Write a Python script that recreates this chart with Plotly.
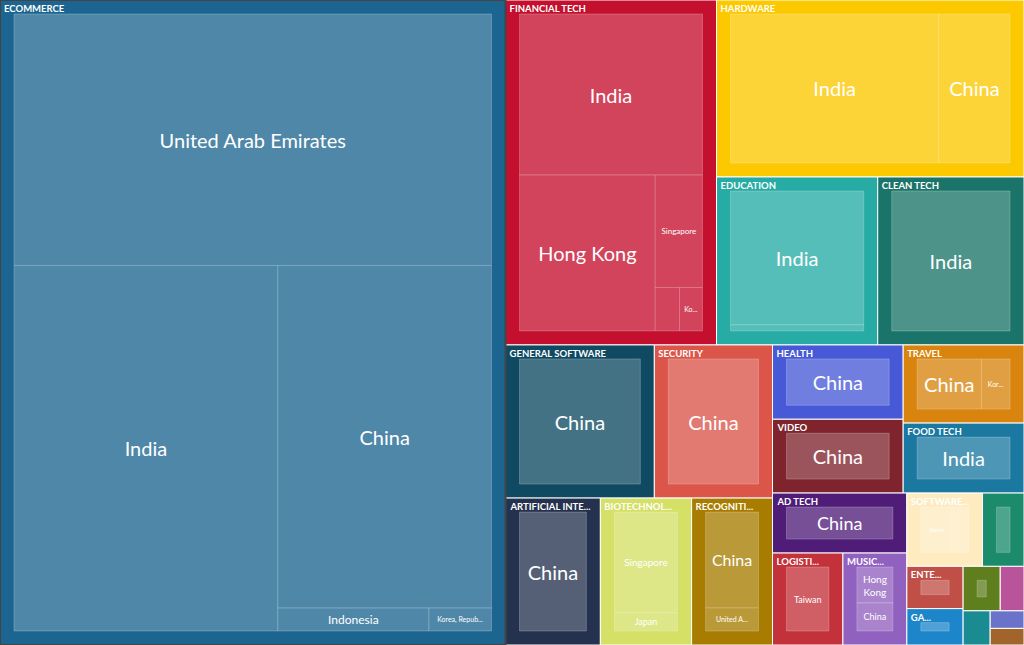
import plotly.graph_objects as go

# sectors (outer boxes)
sectors = ["ECOMMERCE", "FINANCIAL TECH", "HARDWARE", "EDUCATION", "CLEAN TECH",
           "GENERAL SOFTWARE", "SECURITY", "ARTIFICIAL INTELLIGENCE", "BIOTECHNOLOGY",
           "RECOGNITION", "HEALTH", "VIDEO", "TRAVEL", "FOOD TECH", "AD TECH",
           "LOGISTICS", "MUSIC", "SOFTWARE DEVELOPMENT", "TRANSPORTATION",
           "ENTERTAINMENT", "GAMING", "AGRICULTURE", "MARKETING", "REAL ESTATE",
           "SPORTS", "FASHION"]
# header as it is shown in the box ("" = too small to show)
sector_header = ["ECOMMERCE", "FINANCIAL TECH", "HARDWARE", "EDUCATION", "CLEAN TECH",
                 "GENERAL SOFTWARE", "SECURITY", "ARTIFICIAL INTE...", "BIOTECHNOL...",
                 "RECOGNITI...", "HEALTH", "VIDEO", "TRAVEL", "FOOD TECH", "AD TECH",
                 "LOGISTI...", "MUSIC...", "SOFTWARE...", "",
                 "ENTE...", "GA...", "", "", "", "", ""]
sector_colors = ["#1c6590", "#c40f2e", "#fcc800", "#26aca4", "#1b7469",
                 "#0f4a62", "#db5549", "#25324f", "#d4e066",
                 "#a77c00", "#4759d6", "#7f242d", "#d9840e", "#1b78a0", "#4f1d78",
                 "#c3313a", "#9161bf", "#feebc0", "#1b8b6b",
                 "#c04f48", "#1d85ca", "#5f7f1f", "#b9539a", "#1b8b92",
                 "#6a73c9", "#a1652b"]

# leaves (country within sector)
leaf_sector = ["ECOMMERCE"] * 5 + ["FINANCIAL TECH"] * 5 + ["HARDWARE"] * 2 + \
    ["EDUCATION"] * 2 + ["CLEAN TECH", "GENERAL SOFTWARE", "SECURITY",
                         "ARTIFICIAL INTELLIGENCE"] + ["BIOTECHNOLOGY"] * 2 + \
    ["RECOGNITION"] * 2 + ["HEALTH", "VIDEO"] + ["TRAVEL"] * 2 + \
    ["FOOD TECH", "AD TECH", "LOGISTICS"] + ["MUSIC"] * 2 + ["SOFTWARE DEVELOPMENT"] * 2 + \
    ["TRANSPORTATION", "ENTERTAINMENT", "GAMING", "AGRICULTURE", "MARKETING",
     "REAL ESTATE", "SPORTS", "FASHION"]
leaf_country = ["United Arab Emirates", "India", "China", "Indonesia", "Korea, Republic of",
                "India", "Hong Kong", "Singapore", "Indonesia", "Korea, Republic of",
                "India", "China",
                "India", "Singapore",
                "India", "China", "China", "China",
                "Singapore", "Japan",
                "China", "United Arab Emirates",
                "China", "China",
                "China", "Korea, Republic of",
                "India", "China", "Taiwan",
                "Hong Kong", "China",
                "Japan", "India",
                "India", "India", "China", "India", "India", "China", "India", "China"]
leaf_value = [201.2, 161.6, 122.7, 5.8, 2.4,
              56.0, 40.2, 10.1, 2.0, 1.9,
              61.4, 21.0,
              39.2, 1.8,
              37.2, 34.5, 27.4, 21.1,
              17.2, 3.1,
              14.5, 3.5,
              14.7, 14.6,
              9.9, 4.4,
              12.8, 12.2, 9.8,
              5.0, 3.9,
              5.5, 2.9,
              4.6, 3.6, 3.1, 2.5, 1.6, 1.4, 0.9, 0.85]
# label as it is shown in the box ("" = too small to show)
leaf_shown = ["United Arab Emirates", "India", "China", "Indonesia", "Korea, Repub...",
              "India", "Hong Kong", "Singapore", "", "Ko...",
              "India", "China",
              "India", "",
              "India", "China", "China", "China",
              "Singapore", "Japan",
              "China", "United A...",
              "China", "China",
              "China", "Kor...",
              "India", "China", "Taiwan",
              "Hong<br>Kong", "China",
              "Japan", "",
              "", "", "", "", "", "", "", ""]
leaf_size = [20, 20, 20, 12, 7,
             20, 20, 8, 7, 7,
             20, 20,
             20, 7,
             20, 20, 20, 20,
             10, 9,
             16, 7,
             20, 20,
             20, 7,
             20, 18, 9,
             10, 9,
             6, 6,
             7, 7, 7, 7, 7, 7, 7, 7]


def lighten(hex_color, amt=0.22):
    r, g, b = (int(hex_color[i:i + 2], 16) for i in (1, 3, 5))
    r, g, b = (round(c + (255 - c) * amt) for c in (r, g, b))
    return f"#{r:02x}{g:02x}{b:02x}"


col_of = dict(zip(sectors, sector_colors))
CLEAR = "rgba(0,0,0,0)"

ids = sectors + [s + "/" + c for s, c in zip(leaf_sector, leaf_country)]
parents = [""] * len(sectors) + leaf_sector
values = [0] * len(sectors) + leaf_value
texts = sector_header + leaf_shown
colors = sector_colors + [lighten(col_of[s]) for s in leaf_sector]
line_cols = ["white"] * len(sectors) + ["rgba(255,255,255,0.22)"] * len(leaf_sector)

n_s = len(sectors)
n_l = len(leaf_sector)

# page geometry: the visible area is 1024x645, the figure is a bit bigger so
# that the padding plotly puts around the (implicit) root falls off-screen
VW, VH = 1024, 645
PAD = 14          # box padding (sides / bottom / header of the boxes trace)
HEAD = 20         # header height used by the header-label trace
HL = 4            # left/right pad of the header-label trace
FW, FH = VW + 2 * PAD, VH + HEAD + PAD

common = dict(
    ids=ids, parents=parents, values=values, text=texts,
    branchvalues="remainder", sort=True,
    tiling=dict(packing="binary", pad=0),
    pathbar=dict(visible=False),
    hoverinfo="none",
)

fig = go.Figure()

# boxes + country labels centred in the leaves (headers drawn by the next trace)
fig.add_trace(go.Treemap(
    **common,
    labels=[""] * n_s + leaf_country,
    domain=dict(x=[0, 1], y=[0, (FH - (HEAD - PAD)) / FH]),
    marker=dict(colors=colors, line=dict(color=line_cols, width=1), depthfade=False,
                pad=dict(t=PAD, l=PAD, r=PAD, b=PAD)),
    textposition="middle center",
    texttemplate=[" "] * n_s + ["%{text}"] * n_l,
    textfont=dict(family="Lato", size=[8] * n_s + leaf_size,
                  color=[CLEAR] * n_s + ["white"] * n_l),
))

# sector headers, top left of every box (same layout, transparent fill)
fig.add_trace(go.Treemap(
    **common,
    labels=sector_header + leaf_country,
    domain=dict(x=[(PAD - HL) / FW, (PAD + VW + HL) / FW],
                y=[(PAD - HL) / FH, 1]),
    marker=dict(colors=[CLEAR] * (n_s + n_l), depthfade=False,
                line=dict(color=CLEAR, width=0),
                pad=dict(t=HEAD, l=HL, r=HL, b=HL)),
    textposition="top left",
    texttemplate=[" "] * (n_s + n_l),
    textfont=dict(family="Lato", weight="bold", size=[9.5] * n_s + [6] * n_l,
                  color=["white" if h else CLEAR for h in sector_header] + [CLEAR] * n_l),
))

fig.update_layout(
    width=FW, height=FH,
    margin=dict(l=0, r=0, t=0, b=0),
    paper_bgcolor="white",
    font=dict(family="Lato"),
    showlegend=False,
)

shift = ("document.body.style.margin='0';"
         "document.documentElement.style.overflow='hidden';"
         "var gd=document.getElementById('{plot_id}');"
         "gd.style.position='absolute';"
         "gd.style.left='-%dpx';gd.style.top='-%dpx';" % (PAD, HEAD))

fig.write_html("out.html", post_script=shift, config={"displayModeBar": False})
